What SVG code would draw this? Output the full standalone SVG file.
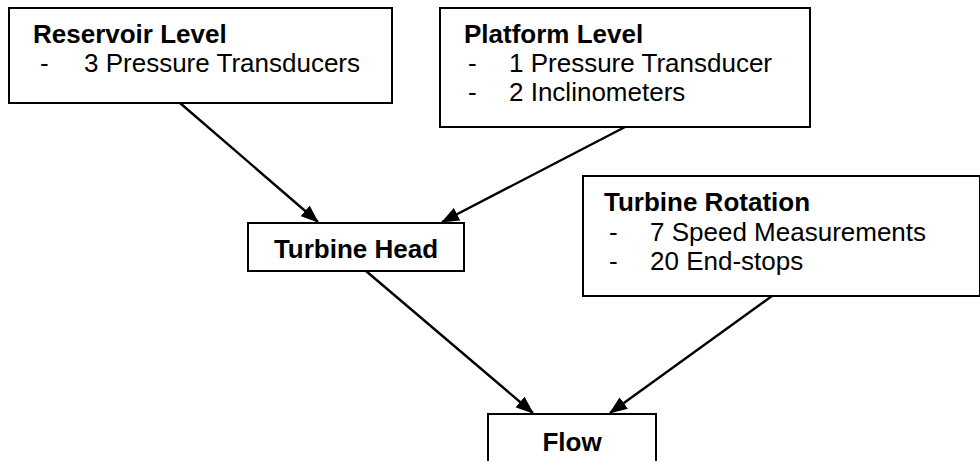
<svg xmlns="http://www.w3.org/2000/svg" width="980" height="461" viewBox="0 0 980 461">
<defs>
<marker id="ah" markerWidth="18" markerHeight="14" refX="17" refY="7" orient="auto" markerUnits="userSpaceOnUse">
<path d="M0,0 L18,7 L0,14 Z" fill="#000"/>
</marker>
<style>
rect.box{fill:#fff;stroke:#000;stroke-width:2}
text{font-family:"Liberation Sans",Arial,sans-serif;font-size:26px;fill:#000}
.b{font-weight:bold}
.c{stroke:#000;stroke-width:2.4;fill:none;marker-end:url(#ah)}
</style>
</defs>
<rect width="980" height="461" fill="#fff"/>
<g id="connectors">
<line class="c" x1="180" y1="103" x2="318" y2="222"/>
<line class="c" x1="625" y1="127" x2="442" y2="222"/>
<line class="c" x1="366" y1="271" x2="533" y2="413"/>
<line class="c" x1="772" y1="296" x2="610" y2="413"/>
</g>
<g id="reservoir">
<rect class="box" x="9" y="8" width="383" height="95"/>
<text class="b" x="33" y="43">Reservoir Level</text>
<text x="40" y="72">-</text>
<text x="84" y="72">3 Pressure Transducers</text>
</g>
<g id="platform">
<rect class="box" x="440" y="8" width="370" height="119"/>
<text class="b" x="464" y="43">Platform Level</text>
<text x="468" y="72">-</text>
<text x="509" y="72">1 Pressure Transducer</text>
<text x="468" y="101">-</text>
<text x="509" y="101">2 Inclinometers</text>
</g>
<g id="turbine-head">
<rect class="box" x="248" y="223" width="216" height="48"/>
<text class="b" x="356" y="258" text-anchor="middle">Turbine Head</text>
</g>
<g id="turbine-rotation">
<rect class="box" x="583" y="176" width="397" height="120"/>
<text class="b" x="604" y="211">Turbine Rotation</text>
<text x="609" y="241">-</text>
<text x="650" y="241">7 Speed Measurements</text>
<text x="609" y="270">-</text>
<text x="650" y="270">20 End-stops</text>
</g>
<g id="flow">
<rect class="box" x="488" y="414" width="168" height="60"/>
<text class="b" x="572" y="451" text-anchor="middle">Flow</text>
</g>
</svg>
